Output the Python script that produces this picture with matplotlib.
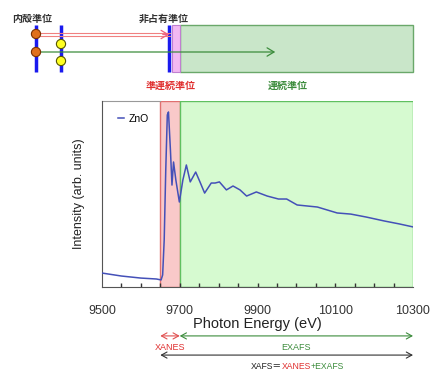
import matplotlib
matplotlib.use("Agg")
import matplotlib.pyplot as plt
from matplotlib.patches import Rectangle, Circle
import numpy as np

plt.rcParams['font.family'] = ['Liberation Sans', 'Noto Sans CJK JP', 'DejaVu Sans']

# ---- data ----
energy = [9500, 9550, 9600, 9640, 9652, 9656, 9660, 9664, 9668, 9671, 9676, 9680,
          9684, 9690, 9699, 9708, 9717, 9727, 9741, 9752, 9764, 9781, 9791, 9802,
          9820, 9837, 9855, 9872, 9897, 9925, 9954, 9975, 10002, 10054, 10105,
          10140, 10180, 10226, 10265, 10300]
intensity = [0.075, 0.059, 0.048, 0.043, 0.038, 0.065, 0.253, 0.629, 0.925, 0.941,
             0.737, 0.548, 0.672, 0.575, 0.457, 0.575, 0.656, 0.565, 0.618, 0.565,
             0.505, 0.559, 0.559, 0.565, 0.522, 0.543, 0.522, 0.489, 0.511, 0.489,
             0.473, 0.473, 0.441, 0.430, 0.398, 0.392, 0.376, 0.355, 0.339, 0.323]
series_name = "ZnO"
xanes_range = [9650, 9700]
exafs_range = [9700, 10300]
xticks = [9500, 9700, 9900, 10100, 10300]
xminor = list(range(9550, 10300, 50))

fig = plt.figure(figsize=(4.33, 3.71), dpi=100)
ax = fig.add_axes([102/433, 1-287/371, (413-102)/433, (287-101)/371])

ax.axvspan(*xanes_range, facecolor='#f9c9c9', edgecolor='#e07070', lw=1, zorder=0)
ax.axvspan(*exafs_range, facecolor='#d6fad0', edgecolor='#60c060', lw=1, zorder=0)
ax.plot(energy, intensity, color='#4450b8', lw=1.1, label=series_name, zorder=3,
        solid_joinstyle='round')

ax.set_xlim(9500, 10300)
ax.set_ylim(0, 1)
ax.spines['top'].set_visible(False)
ax.spines['right'].set_visible(False)
ax.plot([9500, 9650], [1, 1], transform=ax.get_xaxis_transform(), color='#999999',
        lw=0.8, clip_on=False)
for s in ['left', 'bottom']:
    ax.spines[s].set_color('#555555')
ax.set_yticks([])
ax.set_xticks(xticks)
ax.tick_params(axis='x', which='major', length=0, labelsize=9, pad=13, labelcolor='#333333')
# small inward tick marks every 50 eV along the bottom spine
ax.vlines(xminor, 0, 0.022, transform=ax.get_xaxis_transform(), color='#333333', lw=1,
          zorder=4)
ax.set_xlabel("Photon Energy (eV)", fontsize=10.5, labelpad=0, color='#222222')
ax.set_ylabel("Intensity (arb. units)", fontsize=9, color='#222222', labelpad=12)
ax.legend(loc='upper left', frameon=False, handlelength=0.6, handletextpad=0.5,
          fontsize=7.5, bbox_to_anchor=(0.02, 0.98))

# ---- range annotations below the axis ----
ac = ('data', 'axes fraction')
aps = '<->,head_length=0.4,head_width=0.22'
def span_arrow(x0, x1, y, color):
    ax.annotate('', xy=(x0, y), xytext=(x1, y), xycoords=ac, textcoords=ac,
                annotation_clip=False,
                arrowprops=dict(arrowstyle=aps, color=color, lw=0.8, shrinkA=0, shrinkB=0))
span_arrow(xanes_range[0], xanes_range[1], -0.263, '#e05050')
span_arrow(exafs_range[0], exafs_range[1], -0.263, '#3c8c3c')
span_arrow(xanes_range[0], exafs_range[1], -0.366, '#333333')
ax.text(9675, -0.323, "XANES", transform=ax.get_xaxis_transform(), ha='center', va='center',
        fontsize=6.5, color='#e03030')
ax.text(10000, -0.323, "EXAFS", transform=ax.get_xaxis_transform(), ha='center', va='center',
        fontsize=6.5, color='#3c8c3c')
t1 = ax.text(9882, -0.43, "XAFS＝", transform=ax.get_xaxis_transform(), ha='left',
             va='center', fontsize=6.2, color='#222222')
t2 = ax.annotate("XANES", xy=(1, 0), xycoords=t1, va='bottom', fontsize=6.2, color='#e03030')
t3 = ax.annotate("+EXAFS", xy=(1, 0), xycoords=t2, va='bottom', fontsize=6.2, color='#3c8c3c')

# ---- schematic energy-level illustration on top ----
ov = fig.add_axes([0, 0, 1, 1], zorder=5)
ov.set_xlim(0, 433)
ov.set_ylim(371, 0)
ov.axis('off')
ov.patch.set_alpha(0)

ov.add_patch(Rectangle((180, 25), 233, 47, facecolor='#c9e6c9', edgecolor='#6aa86a', lw=1))
ov.add_patch(Rectangle((172, 25), 8, 47, facecolor='#f2b8f2', edgecolor='#c080d0', lw=0.8))
for x in [36, 61, 169]:
    ov.plot([x, x], [25, 72], color='#1a1aee', lw=2.5, solid_capstyle='butt')
ov.plot([36, 170], [33, 33], color='#f08080', lw=0.8)
ov.plot([36, 170], [36, 36], color='#f08080', lw=0.8)
ov.annotate('', xy=(172, 34.5), xytext=(160, 34.5),
            arrowprops=dict(arrowstyle='->,head_length=0.5,head_width=0.3', color='#f06080', lw=0.9))
ov.annotate('', xy=(278, 52), xytext=(36, 52),
            arrowprops=dict(arrowstyle='->,head_length=0.5,head_width=0.3', color='#3c8c3c', lw=0.9))
for y in [34, 52]:
    ov.add_patch(Circle((36, y), 4.6, facecolor='#e0701c', edgecolor='#7a3000', lw=0.8, zorder=4))
for y in [44, 61]:
    ov.add_patch(Circle((61, y), 4.6, facecolor='#ffff22', edgecolor='#555500', lw=0.8, zorder=4))

jp = ['Noto Sans CJK JP', 'DejaVu Sans']
ov.text(32, 19, "内殻準位", ha='center', va='center', fontsize=7.2, family=jp, color='#333333', weight='bold')
ov.text(164, 19, "非占有準位", ha='center', va='center', fontsize=7.2, family=jp, color='#333333', weight='bold')
ov.text(171, 86, "準連続準位", ha='center', va='center', fontsize=7.2, family=jp, color='#e03030', weight='bold')
ov.text(288, 86, "連続準位", ha='center', va='center', fontsize=7.2, family=jp, color='#3c8c3c', weight='bold')

fig.savefig("out.png", dpi=100)
